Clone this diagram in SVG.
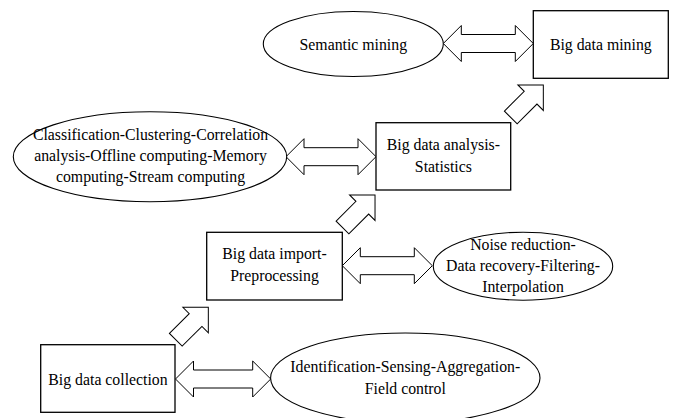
<svg xmlns="http://www.w3.org/2000/svg" width="673" height="418" viewBox="0 0 673 418">
<style>
  .box { fill: #ffffff; stroke: #000000; stroke-width: 1.3; }
  .ell { fill: #ffffff; stroke: #000000; stroke-width: 1.1; }
  .arr { fill: #ffffff; stroke: #000000; stroke-width: 1; stroke-linejoin: miter; }
  text { font-family: "Liberation Serif", "Times New Roman", serif; font-size: 15.8px; fill: #000000; text-anchor: middle; }
</style>
<defs>
  <polygon id="diag" points="0,-9 28,-9 28,-18 46,0 28,18 28,9 0,9"/>
</defs>
<rect width="673" height="418" fill="#ffffff"/>

<g id="connectors">
  <polygon class="arr" points="443.3,43.5 461.3,25.5 461.3,34.5 515.3,34.5 515.3,25.5 533.3,43.5 515.3,61.5 515.3,52.5 461.3,52.5 461.3,61.5"/>
  <polygon class="arr" points="286,156.7 304,138.7 304,147.7 358,147.7 358,138.7 376,156.7 358,174.7 358,165.7 304,165.7 304,174.7"/>
  <polygon class="arr" points="342.3,265.7 360.3,247.7 360.3,256.7 414.3,256.7 414.3,247.7 432.3,265.7 414.3,283.7 414.3,274.7 360.3,274.7 360.3,283.7"/>
  <polygon class="arr" points="175.5,379 193.5,361 193.5,370 252.7,370 252.7,361 270.7,379 252.7,397 252.7,388 193.5,388 193.5,397"/>
  <use href="#diag" class="arr" transform="translate(510.8,117.5) rotate(-45)"/>
  <use href="#diag" class="arr" transform="translate(342.5,227.5) rotate(-45)"/>
  <use href="#diag" class="arr" transform="translate(175.8,339.8) rotate(-45)"/>
</g>

<g id="semantic-mining">
  <ellipse class="ell" cx="353.3" cy="44" rx="90" ry="32.5"/>
  <text x="353.3" y="49.5">Semantic mining</text>
</g>

<g id="big-data-mining">
  <rect class="box" x="533.3" y="10.7" width="135" height="67.6"/>
  <text x="600.8" y="50">Big data mining</text>
</g>

<g id="classification">
  <ellipse class="ell" cx="150" cy="156.7" rx="136.7" ry="45"/>
  <text x="150.5" y="140">Classification-Clustering-Correlation</text>
  <text x="150.5" y="161">analysis-Offline computing-Memory</text>
  <text x="150.5" y="182">computing-Stream computing</text>
</g>

<g id="big-data-analysis">
  <rect class="box" x="376" y="122.7" width="134.7" height="67.3"/>
  <text x="443.4" y="150">Big data analysis-</text>
  <text x="443.4" y="171.5">Statistics</text>
</g>

<g id="big-data-import">
  <rect class="box" x="206.7" y="232.3" width="135.6" height="67.7"/>
  <text x="274.5" y="259">Big data import-</text>
  <text x="274.5" y="281">Preprocessing</text>
</g>

<g id="noise-reduction">
  <ellipse class="ell" cx="523" cy="266.2" rx="89.7" ry="34"/>
  <text x="523" y="250">Noise reduction-</text>
  <text x="523" y="270.5">Data recovery-Filtering-</text>
  <text x="523" y="292">Interpolation</text>
</g>

<g id="big-data-collection">
  <rect class="box" x="40.7" y="344.7" width="134.3" height="67.6"/>
  <text x="108" y="384.7">Big data collection</text>
</g>

<g id="identification">
  <ellipse class="ell" cx="405.3" cy="378" rx="134.7" ry="45"/>
  <text x="405.3" y="372">Identification-Sensing-Aggregation-</text>
  <text x="405.3" y="394">Field control</text>
</g>
</svg>
